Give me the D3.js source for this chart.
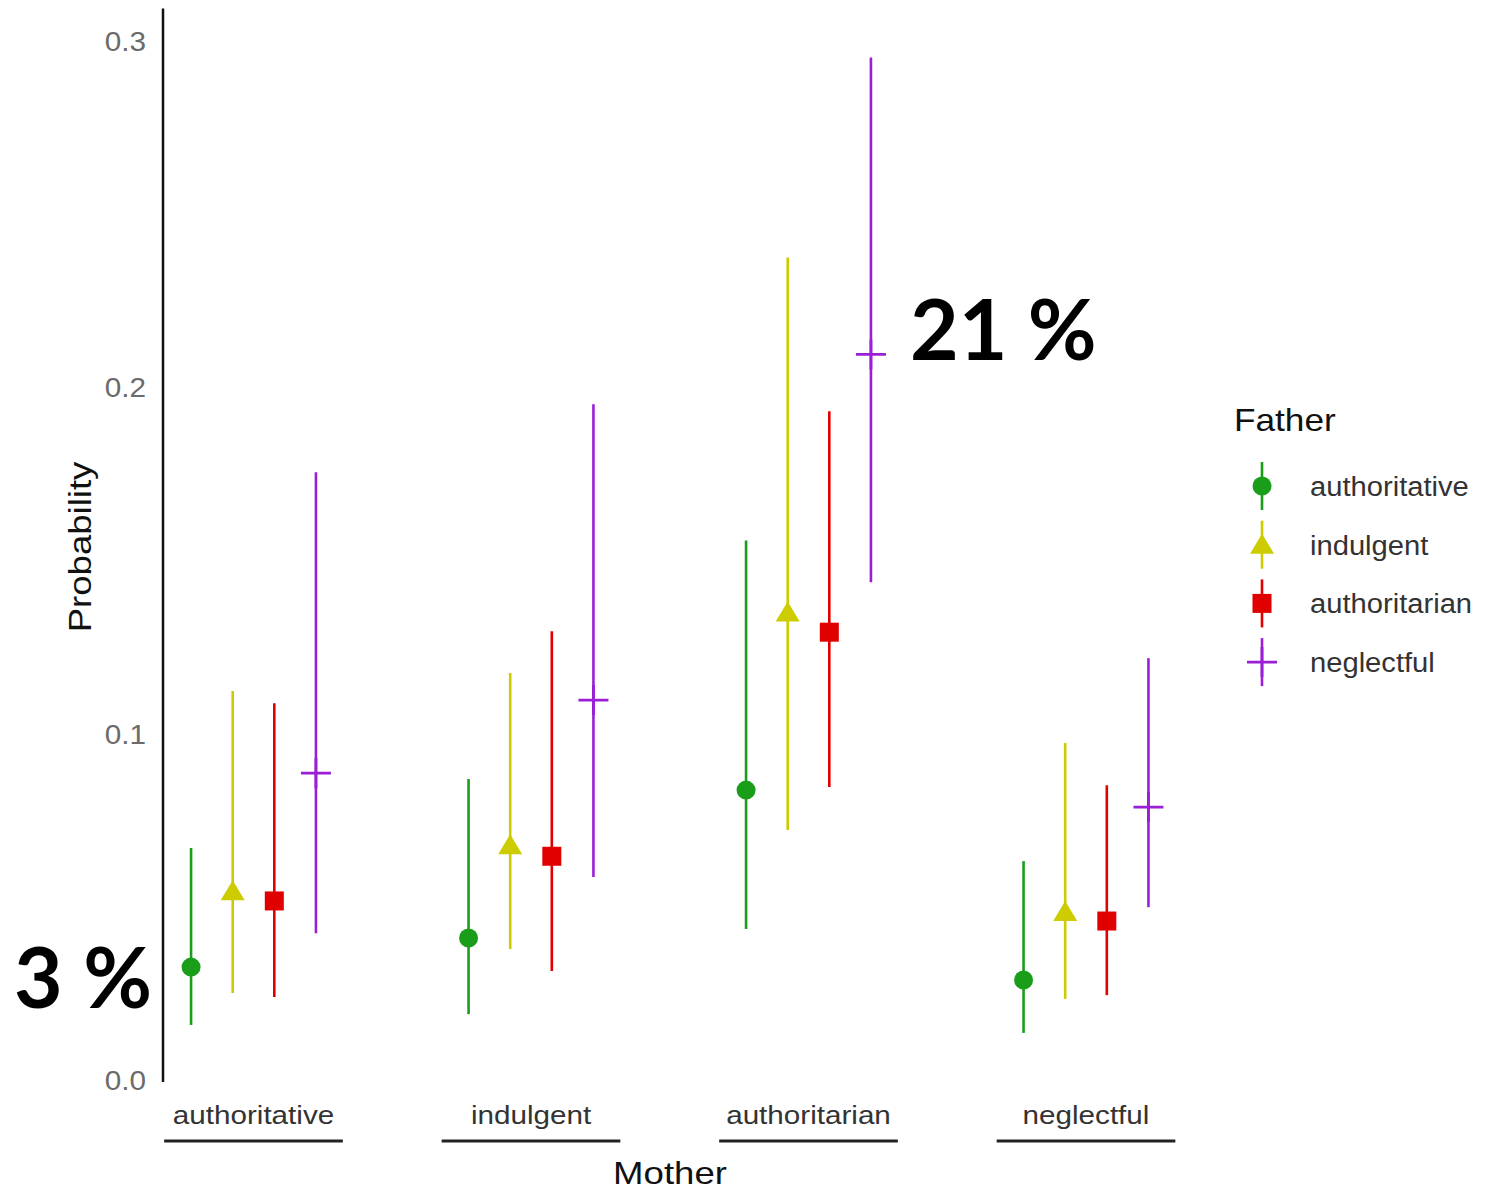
<!DOCTYPE html>
<html>
<head>
<meta charset="utf-8">
<script src="https://cdn.jsdelivr.net/npm/d3@7"></script>
<style>
  html, body { margin: 0; padding: 0; background: #fff; }
  svg { display: block; }
</style>
</head>
<body>
<svg id="chart" width="1498" height="1192"></svg>
<script>
// ---- data ----
const motherCats = ["authoritative", "indulgent", "authoritarian", "neglectful"];
const fatherCats = ["authoritative", "indulgent", "authoritarian", "neglectful"];
const fatherColors = ["#1a9e1a", "#cccc00", "#e00000", "#9a1fd6"];
const fatherShapes = ["circle", "triangle", "square", "plus"];
// estimates per mother group, in father order
const estimate = [
  [0.0326, 0.0545, 0.0517, 0.0886],
  [0.0410, 0.0678, 0.0646, 0.1097],
  [0.0837, 0.1350, 0.1293, 0.2095],
  [0.0289, 0.0485, 0.0459, 0.0788]
];
const lower = [
  [0.0159, 0.0251, 0.0240, 0.0424],
  [0.0190, 0.0378, 0.0315, 0.0586],
  [0.0436, 0.0722, 0.0846, 0.1437],
  [0.0136, 0.0234, 0.0245, 0.0499]
];
const upper = [
  [0.0670, 0.1123, 0.1088, 0.1755],
  [0.0869, 0.1175, 0.1296, 0.1951],
  [0.1558, 0.2375, 0.1931, 0.2952],
  [0.0632, 0.0973, 0.0851, 0.1218]
];
const yTicks = [0.0, 0.1, 0.2, 0.3];
const annotations = [
  { mother: "authoritative", father: "authoritative", text: "3 %" },
  { mother: "authoritarian", father: "neglectful", text: "21 %" }
];

// ---- layout ----
const svg = d3.select("#chart");
const FONT = "Liberation Sans, Arial, sans-serif";
const axisX = 163;
const y = d3.scaleLinear().domain([0, 0.3]).range([1080, 41]);
const x = d3.scalePoint().domain(motherCats).range([253.5, 1086]);
const step = x.step();
const dodge = d3.scaleBand().domain(fatherCats).range([-step * 0.3, step * 0.3]);
const color = d3.scaleOrdinal().domain(fatherCats).range(fatherColors);
const shape = d3.scaleOrdinal().domain(fatherCats).range(fatherShapes);

const rows = [];
motherCats.forEach((m, i) => fatherCats.forEach((f, j) => {
  rows.push({ mother: m, father: f, est: estimate[i][j], lo: lower[i][j], hi: upper[i][j] });
}));
const px = d => x(d.mother) + dodge(d.father) + dodge.bandwidth() / 2;

// stretched text helper
function stext(parent, tx, ty, str, size, sx, anchor, fill, rot) {
  return parent.append("text")
    .attr("transform", `translate(${tx},${ty})${rot ? ` rotate(${rot})` : ""} scale(${sx},1)`)
    .attr("text-anchor", anchor)
    .attr("font-family", FONT)
    .attr("font-size", size)
    .attr("fill", fill)
    .text(str);
}

// y axis line
svg.append("line")
  .attr("x1", axisX).attr("x2", axisX)
  .attr("y1", y(0.3094)).attr("y2", y(-0.0006))
  .attr("stroke", "#111").attr("stroke-width", 2.5);

// y tick labels
const fmt = d3.format(".1f");
const gy = svg.append("g");
yTicks.forEach(t => stext(gy, 146, y(t) + 10, fmt(t), 27, 1.1, "end", "#6b6b6b"));

// x category labels + underlines
const xg = svg.append("g");
motherCats.forEach(m => {
  stext(xg, x(m), 1124, m, 26, 1.14, "middle", "#333");
  xg.append("line")
    .attr("x1", x(m) - step * 0.322).attr("x2", x(m) + step * 0.322)
    .attr("y1", 1141).attr("y2", 1141)
    .attr("stroke", "#222").attr("stroke-width", 3);
});

// axis titles
stext(svg, 670, 1184, "Mother", 31, 1.18, "middle", "#111");
stext(svg, 91, 547, "Probability", 31, 1.18, "middle", "#111", -90);

// shape drawer
function drawShape(g, shp, col) {
  if (shp === "circle") {
    g.append("circle").attr("r", 9.5).attr("fill", col);
  } else if (shp === "triangle") {
    g.append("path").attr("d", "M0,-11 L12,9 L-12,9 Z").attr("fill", col);
  } else if (shp === "square") {
    g.append("rect").attr("x", -9.5).attr("y", -9.5).attr("width", 19).attr("height", 19).attr("fill", col);
  } else {
    g.append("path").attr("d", "M-15,0 L15,0 M0,-15 L0,15")
      .attr("stroke", col).attr("stroke-width", 2.8).attr("fill", "none");
  }
}

// error bars
svg.append("g").selectAll("line").data(rows).join("line")
  .attr("x1", px).attr("x2", px)
  .attr("y1", d => y(d.lo)).attr("y2", d => y(d.hi))
  .attr("stroke", d => color(d.father)).attr("stroke-width", 2.6);

// points
const pts = svg.append("g").selectAll("g").data(rows).join("g")
  .attr("transform", d => `translate(${px(d)},${y(d.est)})`);
pts.each(function(d) { drawShape(d3.select(this), shape(d.father), color(d.father)); });

// annotations
const annFont = "Lato, 'Open Sans', sans-serif";
annotations.forEach((a, i) => {
  const d = rows.find(r => r.mother === a.mother && r.father === a.father);
  const isLeft = i === 0;
  svg.append("text")
    .attr("x", isLeft ? px(d) - 39 : px(d) + 39)
    .attr("y", isLeft ? y(d.est) + 41 : y(d.est) + 6)
    .attr("text-anchor", isLeft ? "end" : "start")
    .attr("font-family", annFont)
    .attr("font-weight", 700)
    .attr("font-size", 84)
    .attr("fill", "#000")
    .text(a.text);
});

// legend
const lg = svg.append("g").attr("transform", "translate(1232,0)");
stext(lg, 2, 431, "Father", 32, 1.1, "start", "#111");
fatherCats.forEach((f, i) => {
  const cy = 486 + i * 58.7;
  const item = lg.append("g").attr("transform", `translate(30,${cy})`);
  item.append("line").attr("x1", 0).attr("x2", 0).attr("y1", -24).attr("y2", 24)
    .attr("stroke", color(f)).attr("stroke-width", 2.6);
  drawShape(item, shape(f), color(f));
  stext(lg, 78, cy + 10, f, 27, 1.08, "start", "#333");
});
</script>
</body>
</html>
